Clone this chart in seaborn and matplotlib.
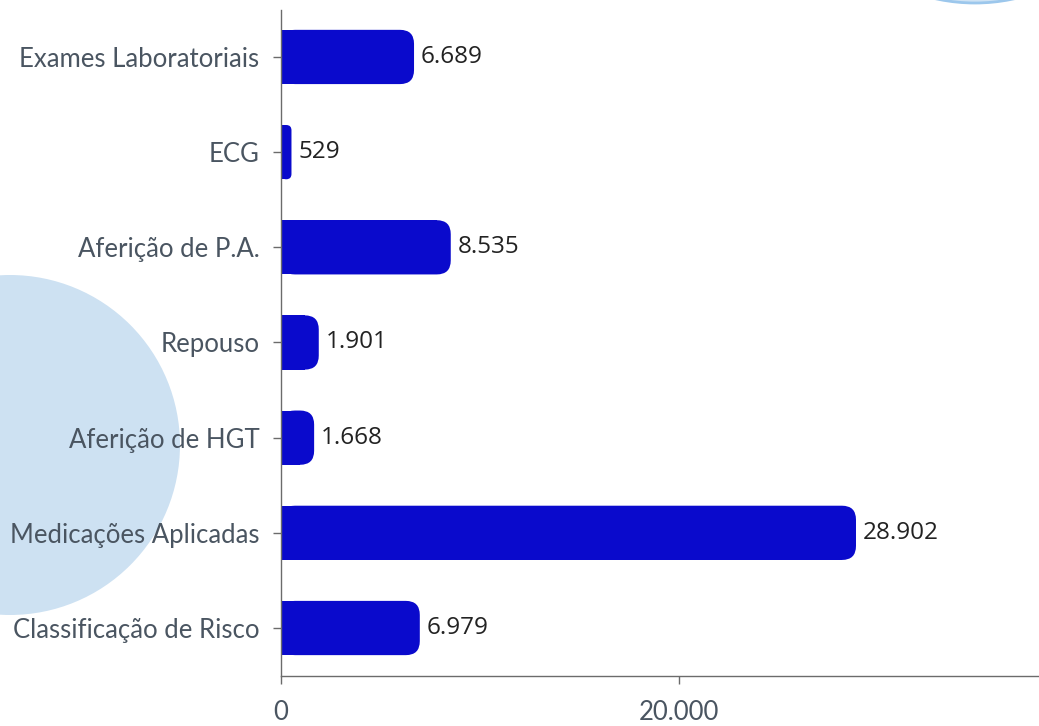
import numpy as np
import pandas as pd
import matplotlib
matplotlib.use("Agg")
import matplotlib.pyplot as plt
from matplotlib.patches import FancyBboxPatch, Rectangle, Circle
import seaborn as sns

##### Daten #####

procedimentos = ["Exames Laboratoriais", "ECG", "Aferição de P.A.", "Repouso",
                 "Aferição de HGT", "Medicações Aplicadas", "Classificação de Risco"]
quantidades = [6689, 529, 8535, 1901, 1668, 28902, 6979]
x_ticks = [0, 20000]
x_tick_labels = ["0", "20.000"]

df = pd.DataFrame({"procedimento": procedimentos, "quantidade": quantidades})

##### Stil #####

sns.set_theme(style="white")
plt.rcParams["font.family"] = ["Lato", "DejaVu Sans"]

cor_barra = "#0a0acc"
cor_texto = "#4a5561"
cor_eixo = "#6b6b6b"

fig = plt.figure(figsize=(10.39, 7.26), dpi=100)

# Kreise im Hintergrund (Dekoration)
fig.add_artist(Circle((0.10, 2.81), 1.70, transform=fig.dpi_scale_trans,
                      facecolor="#cde1f2", edgecolor="none", zorder=-1))
fig.add_artist(Circle((9.75, 9.06), 1.83, transform=fig.dpi_scale_trans,
                      facecolor="#cfe3f4", edgecolor="#9cc7ec", linewidth=2, zorder=-1))

ax_pos = [0.2704, 0.0689, 0.7296, 0.9174]
ax = fig.add_axes(ax_pos)
ax.patch.set_alpha(0)

sns.barplot(data=df, x="quantidade", y="procedimento", orient="h",
            color=cor_barra, saturation=1, width=0.57, ax=ax)

x_max = 38100
y_lim = (6.504, -0.494)
ax.set_xlim(0, x_max)
ax.set_ylim(*y_lim)

# abgerundete Enden der Balken
ax_w = ax_pos[2] * 1039
ax_h = ax_pos[3] * 726
px_x = ax_w / x_max
px_y = ax_h / (y_lim[0] - y_lim[1])
aspect = px_x / px_y
raio = 14 / px_x

barras = ax.containers[0]
for p in barras:
    p.set_visible(False)
    x0, y0, w, h = p.get_x(), p.get_y(), p.get_width(), p.get_height()
    r = min(raio, w / 2)
    ax.add_patch(FancyBboxPatch((x0, y0), w, h,
                                boxstyle=f"round,pad=0,rounding_size={r}",
                                mutation_aspect=aspect,
                                facecolor=cor_barra, edgecolor="none"))
    ax.add_patch(Rectangle((x0, y0), max(w - r, 0), h,
                           facecolor=cor_barra, edgecolor="none"))

ax.bar_label(barras, labels=[f"{v:,}".replace(",", ".") for v in quantidades],
             padding=5, fontsize=17.5, color="#222222", family=["Open Sans", "DejaVu Sans"])

ax.set_xticks(x_ticks)
ax.set_xticklabels(x_tick_labels)
ax.set_xlabel("")
ax.set_ylabel("")

sns.despine(ax=ax, top=True, right=True)
for s in ["left", "bottom"]:
    ax.spines[s].set_color(cor_eixo)
    ax.spines[s].set_linewidth(1.0)

ax.tick_params(axis="y", left=True, length=6, width=1, color=cor_eixo,
               labelsize=18.5, labelcolor=cor_texto, pad=9.5)
ax.tick_params(axis="x", bottom=True, length=6, width=1, color=cor_eixo,
               labelsize=18.5, labelcolor=cor_texto, pad=11)

fig.savefig("out.png", dpi=100)
